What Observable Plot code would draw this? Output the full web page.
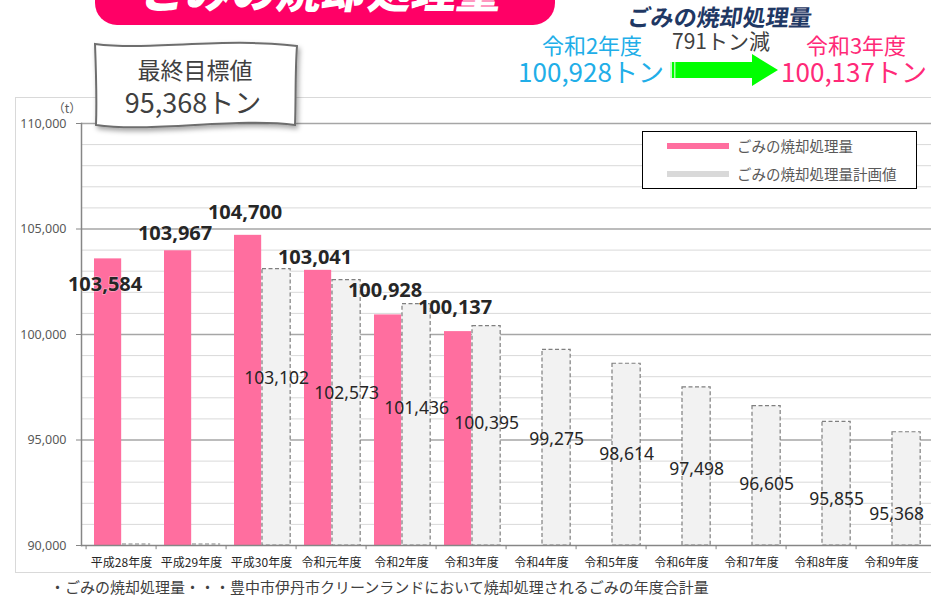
<!DOCTYPE html>
<html><head><meta charset="utf-8">
<script src="https://cdn.jsdelivr.net/npm/d3@7"></script>
<script src="https://cdn.jsdelivr.net/npm/@observablehq/plot@0.6"></script>
<style>
html,body{margin:0;padding:0;background:#fff;}
#wrap{position:relative;width:931px;height:597px;overflow:hidden;font-family:"Noto Sans CJK JP","Noto Sans",sans-serif;}
.abs{position:absolute;white-space:nowrap;}
.c{transform:translateX(-50%);text-align:center;}
</style></head><body><div id="wrap"></div>
<script>
// ---- data ----
const categories = ["平成28年度","平成29年度","平成30年度","令和元年度","令和2年度","令和3年度","令和4年度","令和5年度","令和6年度","令和7年度","令和8年度","令和9年度"];
const actual  = [103584, 103967, 104700, 103041, 100928, 100137, null, null, null, null, null, null];
const planned = [null, null, 103102, 102573, 101436, 100395, 99275, 98614, 97498, 96605, 95855, 95368];
const yTicks = [90000, 95000, 100000, 105000, 110000];
const seriesNames = ["ごみの焼却処理量", "ごみの焼却処理量計画値"];
const title = "ごみの焼却処理量";
const goalLabel = "最終目標値";
const goalValue = 95368;
const prevLabel = "令和2年度", prevValue = 100928;
const currLabel = "令和3年度", currValue = 100137;
const caption = "・ごみの焼却処理量・・・豊中市伊丹市クリーンランドにおいて焼却処理されるごみの年度合計量";

// ---- build ----
const fmt = d3.format(",");
const rows = categories.map((c, i) => ({cat: c, actual: actual[i], planned: planned[i]}));
const actualRows = rows.filter(d => d.actual != null);
const plannedRows = rows.filter(d => d.planned != null);
const noPlanRows = rows.filter(d => d.planned == null);
const minor = d3.range(91000, 110000, 1000).filter(v => v % 5000 !== 0);

const W = 931, H = 597, mL = 81, mR = 0, mT = 123, mB = 52;
const bw = (W - mL - mR) / categories.length;
const yPx = d3.scaleLinear([90000, 110000], [H - mB, mT]);
const pinkDy = [26, -17, -23, -13, -24, -24];
const grayDx = (36 + 65) / 2 - bw / 2;

const pinkLabels = actualRows.map((d, i) => Plot.text([d], {
  x: "cat", y: "actual", text: d => fmt(d.actual), dx: (8 + 36) / 2 - bw / 2 - 3, dy: pinkDy[i],
  fontSize: 20, fontWeight: "bold", fontFamily: "Noto Sans", fill: "#262626",
  stroke: "#fff", strokeOpacity: 0.4, strokeWidth: 1.5, lineAnchor: "middle"
}));
const grayLabels = plannedRows.map((d, k) => Plot.text([d], {
  x: "cat", y: () => yPx.invert(378 + 15.1 * k), text: d => fmt(d.planned),
  dx: k === plannedRows.length - 1 ? grayDx - 10 : grayDx,
  fontSize: 17.5, fontFamily: "Noto Sans", fill: "#262626", lineAnchor: "middle"
}));

const chart = Plot.plot({
  width: W, height: H, marginLeft: mL, marginRight: mR, marginTop: mT, marginBottom: mB,
  style: {background: "transparent", overflow: "visible", fontFamily: "'Noto Sans CJK JP', sans-serif"},
  x: {type: "band", domain: categories, padding: 0, label: null},
  y: {domain: [90000, 110000], label: null},
  marks: [
    Plot.ruleY(minor, {stroke: "#d9d9d9", strokeWidth: 1}),
    Plot.ruleY(yTicks.slice(1), {stroke: "#a6a6a6", strokeWidth: 1.5}),
    Plot.barY(actualRows, {x: "cat", y1: 90000, y2: "actual", fill: "#ff6e9f", insetLeft: 8, insetRight: bw - 36}),
    Plot.barY(plannedRows, {x: "cat", y1: 90000, y2: "planned", fill: "#f2f2f2", stroke: "#7f7f7f",
      strokeDasharray: "4,2.5", strokeWidth: 1.2, insetLeft: 36, insetRight: bw - 65}),
    Plot.ruleY([90000], {stroke: "#868686", strokeWidth: 1.5}),
    Plot.tickY(noPlanRows, {x: "cat", y: () => 90000, dy: -1.5, stroke: "#7f7f7f", strokeDasharray: "4,2.5",
      strokeWidth: 1.2, insetLeft: 36, insetRight: bw - 65}),
    Plot.frame({anchor: "left", stroke: "#868686", strokeWidth: 1.5}),
    Plot.ruleX(categories, {x: d => d, dx: -bw / 2, y1: 90000, y2: 89800, stroke: "#868686", strokeWidth: 1}),
    Plot.axisY({ticks: yTicks, tickSize: 5, tickFormat: () => "", stroke: "#868686", label: null}),
    Plot.axisY({ticks: yTicks, tickSize: 0, tickPadding: 15, tickFormat: d3.format(","), color: "#595959",
      fontSize: 12.5, fontFamily: "Noto Sans", label: null}),
    Plot.axisX({tickSize: 0, tickPadding: 13, fontSize: 12, color: "#262626", label: null}),
    ...pinkLabels,
    ...grayLabels
  ]
});

const wrap = document.getElementById("wrap");
// outer chart border (behind)
const border = document.createElement("div");
border.className = "abs";
Object.assign(border.style, {left: "15px", top: "97px", width: "940px", height: "474px", border: "1.5px solid #d9d9d9"});
wrap.appendChild(border);
chart.style.position = "absolute"; chart.style.left = "0px"; chart.style.top = "0px";
wrap.appendChild(chart);

function addText(txt, x, cy, size, color, opts = {}) {
  const el = document.createElement("div");
  el.className = "abs" + (opts.center ? " c" : "");
  el.textContent = txt;
  const lh = size * 0.9;
  Object.assign(el.style, {
    left: x + "px", top: (cy - lh / 2 - 0.06 * size) + "px", fontSize: size + "px", lineHeight: lh + "px",
    color: color, fontWeight: opts.weight || "400"
  });
  if (opts.family) el.style.fontFamily = opts.family;
  if (opts.skew) el.style.transform = (opts.center ? "translateX(-50%) " : "") + "skewX(" + opts.skew + "deg)";
  wrap.appendChild(el);
  return el;
}

// unit label
addText("（t）", 67, 109, 12, "#595959", {center: true});

// legend
const leg = document.createElement("div");
leg.className = "abs";
Object.assign(leg.style, {left: "642px", top: "131px", width: "273px", height: "56px", border: "1.5px solid #000", background: "#fff"});
wrap.appendChild(leg);
const sw = [["#ff6e9f", 143], ["#d9d9d9", 171]];
sw.forEach(([col, top], i) => {
  const s = document.createElement("div");
  s.className = "abs";
  Object.assign(s.style, {left: "667px", top: top + "px", width: "62px", height: "6px", background: col});
  wrap.appendChild(s);
  addText(seriesNames[i], 737, top + 3.5, 14.5, "#595959");
});

// caption
addText(caption, 50, 588, 15, "#404040");

// banner
const banner = document.createElement("div");
banner.className = "abs";
Object.assign(banner.style, {left: "95px", top: "-30px", width: "460px", height: "55px", background: "#ff0066", borderRadius: "0 0 22px 22px"});
wrap.appendChild(banner);
addText(title, 323, -8.5, 45, "#ffffff", {center: true, weight: "900", skew: -10});

// callout flag + arrow
const ns = "http://www.w3.org/2000/svg";
const cs = document.createElementNS(ns, "svg");
cs.setAttribute("width", "931"); cs.setAttribute("height", "140");
cs.style.position = "absolute"; cs.style.left = "0"; cs.style.top = "0"; cs.style.overflow = "visible";
cs.innerHTML = `<defs><filter id="sh" x="-10%" y="-10%" width="130%" height="140%"><feDropShadow dx="2" dy="3" stdDeviation="2.5" flood-color="#000" flood-opacity="0.35"/></filter></defs>
<path d="M95,44 C150,51 225,37 297,46 C295,72 296,100 295,125 C240,117 150,133 96,125 C97,98 96,70 95,44 Z" fill="#fff" stroke="#6e6e6e" stroke-width="2" filter="url(#sh)"/>
<polygon points="670,62 752,62 752,54 778,70 752,86 752,78 670,78" fill="#00ff00"/>
<rect x="670" y="62" width="2" height="16" fill="#c8ffc8"/><rect x="674" y="62" width="1.5" height="16" fill="#aaffaa"/>`;
wrap.appendChild(cs);
addText(goalLabel, 195, 71, 23, "#404040", {center: true});
addText(fmt(goalValue) + "トン", 193, 104, 27, "#404040", {center: true});

// top-right summary
addText(title, 628, 18, 23, "#1f3864", {weight: "700", skew: -8});
addText(fmt(prevValue - currValue) + "トン減", 721, 42, 21, "#404040", {center: true});
addText(prevLabel, 592, 46, 22, "#21aee8", {center: true});
addText(fmt(prevValue) + "トン", 591, 72, 26, "#21aee8", {center: true});
addText(currLabel, 856, 46, 22, "#ff2a78", {center: true});
addText(fmt(currValue) + "トン", 854, 72, 26, "#ff2a78", {center: true});
</script></body></html>
